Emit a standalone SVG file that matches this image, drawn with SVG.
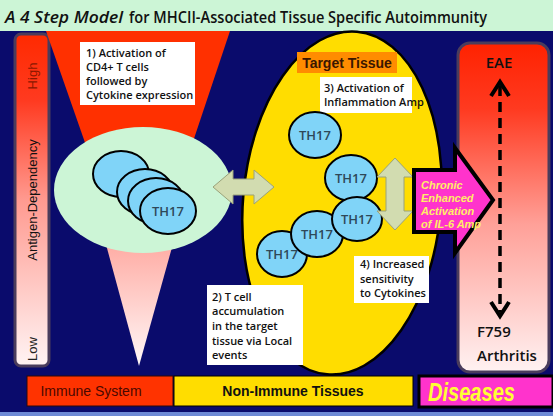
<svg xmlns="http://www.w3.org/2000/svg" width="553" height="416" viewBox="0 0 553 416">
<defs>
<linearGradient id="barGrad" x1="0" y1="0" x2="0" y2="1">
<stop offset="0" stop-color="#ff2a00"/>
<stop offset="0.2" stop-color="#ff3a20"/>
<stop offset="0.5" stop-color="#ff9a90"/>
<stop offset="1" stop-color="#fff4f4"/>
</linearGradient>
<linearGradient id="disGrad" x1="0" y1="0" x2="0" y2="1">
<stop offset="0" stop-color="#ff2200"/>
<stop offset="0.2" stop-color="#ff3a20"/>
<stop offset="0.55" stop-color="#ffa098"/>
<stop offset="1" stop-color="#fff2f2"/>
</linearGradient>
<linearGradient id="funnelLow" x1="0" y1="0" x2="0" y2="1">
<stop offset="0" stop-color="#ff9a90"/>
<stop offset="1" stop-color="#fff8f8"/>
</linearGradient>
<style>
.cell{fill:#80d4f8;stroke:#000;stroke-width:2}
.celltxt{font-family:"Open Sans","Liberation Sans",sans-serif;font-size:13px;font-weight:600;fill:#2e4858;text-anchor:middle}
.box{fill:#fff}
.btxt{font-family:"Open Sans","Liberation Sans",sans-serif;font-size:11px;font-weight:600;fill:#111}
.arrowFill{fill:#d2dcb0;stroke:#9aa27a;stroke-width:1}
.lbl{font-family:"Open Sans","Liberation Sans",sans-serif;font-size:15px;font-weight:600;fill:#111}
.title{font-family:"Open Sans","Liberation Sans",sans-serif;font-size:17px;font-weight:600;fill:#111}
</style>
</defs>
<rect x="0" y="0" width="553" height="416" fill="#ccf5d6"/>
<rect x="0" y="31" width="553" height="381" fill="#0a0b6c"/>
<rect x="0" y="412" width="553" height="4" fill="#6d8ad6"/>
<text class="title" x="5" y="23" font-style="italic" textLength="118" lengthAdjust="spacingAndGlyphs">A 4 Step Model</text>
<text class="title" x="129" y="23" textLength="358" lengthAdjust="spacingAndGlyphs">for MHCII-Associated Tissue Specific Autoimmunity</text>

<g id="antigen-bar">
<rect x="15" y="34" width="34" height="332" rx="6" fill="url(#barGrad)" stroke="#4a3c5c" stroke-width="3"/>
<text transform="translate(37,76) rotate(-90)" text-anchor="middle" font-family="Liberation Sans, Arial, sans-serif" font-size="13" fill="#8a1800">High</text>
<text transform="translate(37,200) rotate(-90)" text-anchor="middle" font-family="Liberation Sans, Arial, sans-serif" font-size="13" fill="#111">Antigen-Dependency</text>
<text transform="translate(37,349) rotate(-90)" text-anchor="middle" font-family="Liberation Sans, Arial, sans-serif" font-size="13" fill="#222">Low</text>
</g>

<g id="funnel">
<polygon points="46,31 230,31 140,300" fill="#ff3000"/>
<polygon points="98,215 181,215 139,366" fill="url(#funnelLow)"/>
</g>

<g id="immune-ellipse">
<ellipse cx="143" cy="190" rx="89" ry="63" fill="#ccf5d6"/>
<ellipse class="cell" cx="121" cy="174" rx="28" ry="23"/>
<ellipse class="cell" cx="145" cy="192" rx="28" ry="23"/>
<ellipse class="cell" cx="156" cy="201" rx="28" ry="23"/>
<ellipse class="cell" cx="168" cy="211" rx="28" ry="23"/>
<text class="celltxt" x="168" y="216">TH17</text>
</g>

<g id="step1">
<rect class="box" x="80" y="42" width="115" height="63"/>
<text class="btxt"><tspan x="86" y="57">1) Activation of</tspan><tspan x="86" y="71">CD4+ T cells</tspan><tspan x="86" y="85">followed by</tspan><tspan x="86" y="99">Cytokine expression</tspan></text>
</g>

<g id="target-tissue">
<ellipse cx="342" cy="203" rx="99" ry="172" transform="rotate(5 342 203)" fill="#ffdd00" stroke="#000" stroke-width="2.5"/>
<rect x="297" y="52" width="100" height="21" fill="#ff8c00"/>
<text x="347" y="68" text-anchor="middle" font-family="Liberation Sans, Arial, sans-serif" font-size="14" font-weight="bold" fill="#3a1600">Target Tissue</text>
</g>

<g id="step3">
<rect class="box" x="320" y="77" width="92" height="36"/>
<text class="btxt" font-size="10.5"><tspan x="324" y="92">3) Activation of</tspan><tspan x="324" y="106">Inflammation Amp</tspan></text>
</g>

<g id="tissue-cells">
<ellipse class="cell" cx="315" cy="135" rx="26" ry="23"/>
<text class="celltxt" x="315" y="140">TH17</text>
<ellipse class="cell" cx="351" cy="178" rx="26" ry="23"/>
<text class="celltxt" x="351" y="183">TH17</text>
<ellipse class="cell" cx="282" cy="254" rx="25" ry="23"/>
<text class="celltxt" x="282" y="259">TH17</text>
<ellipse class="cell" cx="317" cy="234" rx="26" ry="23"/>
<text class="celltxt" x="317" y="239" fill="#000" font-weight="bold">TH17</text>
<ellipse class="cell" cx="357" cy="219" rx="25" ry="22"/>
<text class="celltxt" x="357" y="224">TH17</text>
</g>

<g id="step2">
<rect class="box" x="207" y="285" width="96" height="80"/>
<text class="btxt"><tspan x="212" y="301">2) T cell</tspan><tspan x="212" y="315">accumulation</tspan><tspan x="212" y="330">in the target</tspan><tspan x="212" y="345">tissue via Local</tspan><tspan x="212" y="359">events</tspan></text>
</g>

<g id="step4">
<rect class="box" x="354" y="256" width="75" height="47"/>
<text class="btxt"><tspan x="360" y="268">4) Increased</tspan><tspan x="360" y="283">sensitivity</tspan><tspan x="360" y="297">to Cytokines</tspan></text>
</g>

<g id="diseases-bar">
<rect x="458" y="43" width="91" height="329" rx="12" fill="url(#disGrad)" stroke="#4a3c5c" stroke-width="3"/>
<text class="lbl" x="499" y="68" text-anchor="middle">EAE</text>
<text class="lbl" x="477" y="337">F759</text>
<text class="lbl" x="477" y="361">Arthritis</text>
</g>

<g id="connectors">
<polygon class="arrowFill" points="213,187 233,170 233,179 254,179 254,170 274,187 254,204 254,195 233,195 233,204"/>
<polygon class="arrowFill" points="395,158 413,177 404,177 404,211 413,211 395,230 377,211 386,211 386,177 377,177"/>
<line x1="500" y1="86" x2="500" y2="312" stroke="#000" stroke-width="3.5" stroke-dasharray="10 6"/>
<polyline points="491,96 500,82 509,96" fill="none" stroke="#000" stroke-width="4"/>
<polyline points="491,302 500,316 509,302" fill="none" stroke="#000" stroke-width="4"/>
</g>

<g id="chronic-arrow">
<polygon points="414,170 455,170 455,148 493,200 455,253 455,232 414,232" fill="#ff33cc" stroke="#000" stroke-width="4" stroke-linejoin="miter"/>
<text font-family="Liberation Sans, Arial, sans-serif" font-size="11" font-weight="bold" font-style="italic" fill="#ffee66"><tspan x="421" y="189">Chronic</tspan><tspan x="421" y="202">Enhanced</tspan><tspan x="421" y="215">Activation</tspan><tspan x="421" y="228">of IL-6 Amp</tspan></text>
</g>

<g id="legend-immune">
<rect x="27" y="376" width="146" height="30" fill="#ff3300" stroke="#2a0a0a" stroke-width="1"/>
<text x="91" y="396" text-anchor="middle" font-family="Liberation Sans, Arial, sans-serif" font-size="14" fill="#4a0800">Immune System</text>
</g>
<g id="legend-nonimmune">
<rect x="174" y="376" width="239" height="30" fill="#ffdd00" stroke="#000" stroke-width="1"/>
<text x="293" y="396" text-anchor="middle" font-family="Liberation Sans, Arial, sans-serif" font-size="14" font-weight="bold" fill="#111">Non-Immune Tissues</text>
</g>
<g id="legend-diseases">
<rect x="419" y="376" width="134" height="31" fill="#ff33cc" stroke="#000" stroke-width="3"/>
<text x="428" y="401" font-family="Liberation Sans, Arial, sans-serif" font-size="26" font-weight="bold" font-style="italic" fill="#ffff33" textLength="87" lengthAdjust="spacingAndGlyphs">Diseases</text>
</g>
</svg>
